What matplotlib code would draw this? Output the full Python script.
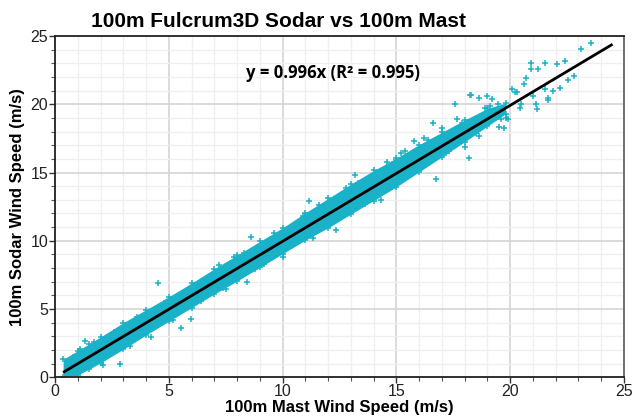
import matplotlib
matplotlib.use("Agg")
import matplotlib.pyplot as plt
from matplotlib.ticker import MultipleLocator

# dense band of the scatter: lower / upper edge (m/s)
band_x = [0.35, 1, 1.5, 2, 3, 4, 5, 6, 7, 8, 9, 10, 11, 12, 13, 14, 15, 16, 17, 18, 19, 19.8]
band_lo = [0.0, 0.15, 0.6, 1.05, 2.05, 3.1, 4.1, 5.1, 6.1, 7.05, 8.05, 9.05, 10.05, 10.95,
           11.95, 12.95, 13.95, 15.05, 16.15, 17.25, 18.4, 19.3]
band_hi = [1.3, 1.95, 2.45, 2.95, 4.0, 4.95, 5.9, 6.9, 7.95, 8.95, 9.95, 10.95, 12.05,
           13.1, 14.15, 15.15, 16.05, 17.05, 17.95, 18.85, 19.7, 20.1]

# scattered points outside the dense band
mast = [4.5, 5.99, 5.54, 2.86, 8.42, 1.32, 4.22, 8.61, 7.86, 7.51, 11.17, 10.88,
        13.18, 12.35, 10.03, 11.35, 18.23, 17.59, 16.62, 15.79, 18.2, 18.0, 16.74,
        14.31, 23.55, 23.1, 22.41, 22.04, 21.53, 20.91, 21.23, 22.55, 22.19, 21.67,
        21.19, 21.13, 20.72, 20.07, 18.26, 18.64, 19.0, 19.48, 20.43, 21.53, 21.89,
        19.92, 19.74, 19.52, 18.64, 17.65, 20.94, 21.67, 19.2, 20.2, 20.6, 19.8,
        17.0, 16.2, 15.4, 14.6, 13.6, 12.8, 11.6, 9.6, 8.8, 7.2, 6.4, 3.6, 2.3,
        1.7, 0.8, 20.5, 21.0, 22.8, 19.3, 18.9, 17.3, 15.2,
        1.1, 2.1, 2.6, 3.3, 4.8, 5.2, 6.7, 7.4, 8.3, 9.2, 9.9, 10.6, 11.9, 12.4,
        13.3, 14.1, 14.9, 15.6, 16.4, 17.2, 17.9, 18.5, 19.1, 19.6, 20.3]
sodar = [6.91, 4.23, 3.57, 0.95, 6.99, 2.66, 2.95, 10.29, 8.82, 6.43, 12.9, 11.85,
         14.83, 10.78, 8.78, 10.17, 20.67, 19.99, 18.6, 17.32, 16.04, 16.9, 14.49,
         12.98, 24.46, 24.07, 23.19, 22.92, 23.04, 22.56, 22.56, 21.75, 21.21, 20.48,
         19.63, 19.99, 21.94, 21.14, 20.65, 20.48, 20.6, 19.99, 19.74, 21.09, 20.97,
         18.94, 18.28, 18.35, 17.67, 18.94, 23.0, 20.31, 20.4, 20.9, 21.5, 19.0,
         18.3, 17.5, 16.6, 15.8, 12.7, 13.9, 12.6, 10.6, 7.9, 8.2, 5.6, 4.4, 1.6,
         2.6, 1.5, 20.0, 20.6, 22.1, 18.9, 19.7, 16.6, 16.4,
         2.1, 0.9, 3.3, 2.3, 5.4, 4.2, 7.3, 6.5, 9.1, 8.3, 10.5, 9.8, 12.5, 11.6,
         14.2, 13.2, 15.8, 14.8, 17.4, 16.4, 18.6, 17.9, 19.9, 18.9, 20.9]

slope = 0.996
fit_x = [0.4, 24.45]
fit_y = [slope * v for v in fit_x]

cyan = "#19b2c8"

fig = plt.figure(figsize=(6.34, 4.2), dpi=100)
ax = fig.add_axes([0.087, 0.102, 0.897, 0.812])

ax.fill_between(band_x, band_lo, band_hi, color=cyan, lw=0, zorder=2)
ax.plot(band_x, band_lo, ls="none", marker="+", ms=4, mew=1.1, color=cyan, zorder=2)
ax.plot(band_x, band_hi, ls="none", marker="+", ms=4, mew=1.1, color=cyan, zorder=2)
ax.plot(mast, sodar, ls="none", marker="+", ms=4, mew=1.1, color=cyan, zorder=3)
ax.plot(fit_x, fit_y, color="black", lw=2, zorder=4)

# limites
ax.set_xlim(0, 25)
ax.set_ylim(0, 25)
ax.xaxis.set_major_locator(MultipleLocator(5))
ax.yaxis.set_major_locator(MultipleLocator(5))
ax.xaxis.set_minor_locator(MultipleLocator(1))
ax.yaxis.set_minor_locator(MultipleLocator(1))

# quadrillage
ax.grid(which="major", color="#d4d4d4", lw=1.2, zorder=0)
ax.grid(which="minor", color="#efefef", lw=0.9, zorder=0)
ax.set_axisbelow(True)

ax.tick_params(which="major", direction="out", length=4, width=1, labelsize=11.5,
               colors="#333333", labelcolor="#222222", pad=1)
ax.tick_params(which="minor", direction="out", length=3, width=0.8, colors="#555555")
for side in ["left", "bottom", "top"]:
    ax.spines[side].set_color("#222222")
    ax.spines[side].set_linewidth(1.3)
ax.spines["right"].set_color("#666666")
ax.spines["right"].set_linewidth(1.3)

ax.set_xlabel("100m Mast Wind Speed (m/s)", fontsize=12, fontweight="bold",
              family="Liberation Sans", labelpad=1)
ax.set_ylabel("100m Sodar Wind Speed (m/s)", fontsize=12, fontweight="bold",
              family="Liberation Sans", labelpad=4)
for lab in ax.get_xticklabels() + ax.get_yticklabels():
    lab.set_family("Liberation Sans")

fig.text(0.44, 0.935, "100m Fulcrum3D Sodar vs 100m Mast", ha="center", va="baseline",
         fontsize=15, fontweight="bold", family="Liberation Sans")
ax.text(12.2, 22.3, "y = 0.996x (R² = 0.995)", ha="center", va="center",
        fontsize=12, fontweight="bold", family="Open Sans")

fig.savefig("out.png", dpi=100)
